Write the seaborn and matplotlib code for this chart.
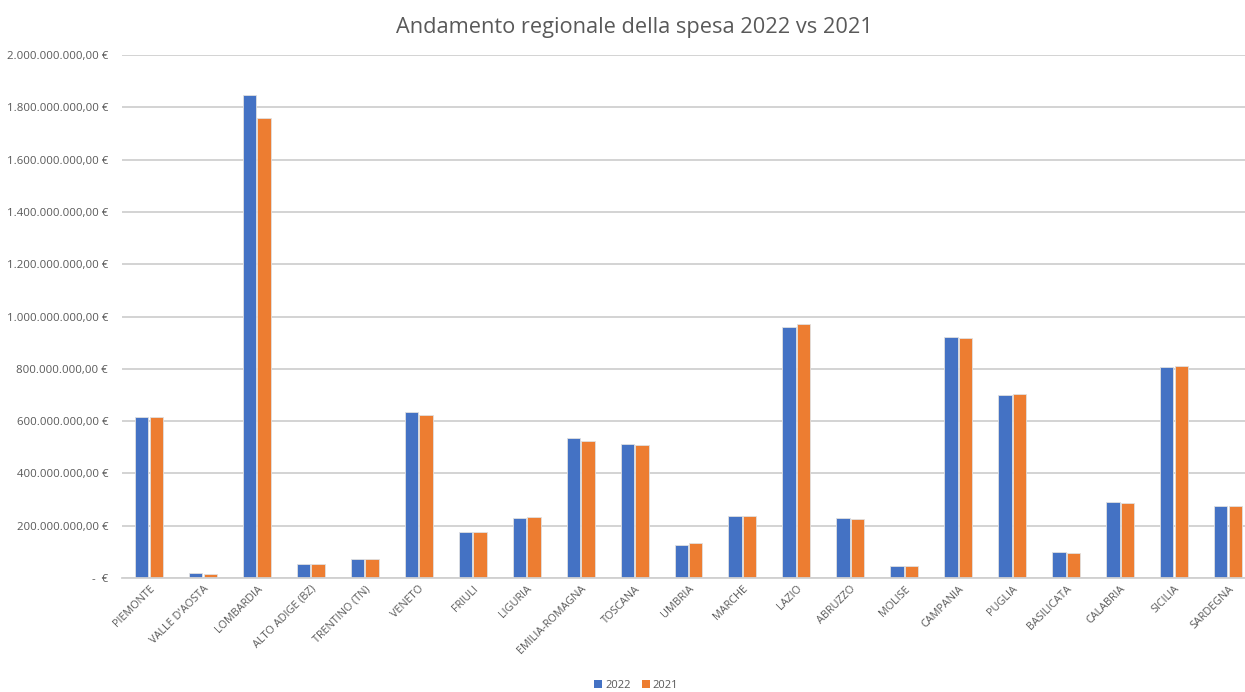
import matplotlib
matplotlib.use("Agg")
import matplotlib.pyplot as plt
import seaborn as sns
import pandas as pd
from matplotlib.ticker import FuncFormatter
from matplotlib.patches import Patch

regioni = ["PIEMONTE", "VALLE D'AOSTA", "LOMBARDIA", "ALTO ADIGE (BZ)", "TRENTINO (TN)",
           "VENETO", "FRIULI", "LIGURIA", "EMILIA-ROMAGNA", "TOSCANA", "UMBRIA",
           "MARCHE", "LAZIO", "ABRUZZO", "MOLISE", "CAMPANIA", "PUGLIA", "BASILICATA",
           "CALABRIA", "SICILIA", "SARDEGNA"]
spesa_2022 = [617e6, 18e6, 1847e6, 55e6, 72e6, 635e6, 175e6, 230e6, 536e6, 513e6, 127e6,
              238e6, 961e6, 231e6, 46e6, 923e6, 701e6, 99e6, 292e6, 807e6, 276e6]
spesa_2021 = [617e6, 14e6, 1760e6, 55e6, 72e6, 624e6, 175e6, 232e6, 522e6, 507e6, 135e6,
              238e6, 972e6, 227e6, 44e6, 919e6, 705e6, 97e6, 286e6, 812e6, 274e6]
anni = ["2022", "2021"]
colori = ["#4472C4", "#ED7D31"]

df = pd.DataFrame({
    "regione": regioni * 2,
    "anno": [anni[0]] * len(regioni) + [anni[1]] * len(regioni),
    "spesa": spesa_2022 + spesa_2021,
})

sns.set_theme(style="white")
plt.rcParams["font.family"] = ["Open Sans", "DejaVu Sans"]

fig = plt.figure(figsize=(12.45, 6.92), dpi=100)
ax = fig.add_axes([122 / 1245, 1 - 578 / 692, 1133 / 1245, (578 - 55) / 692])

sns.barplot(data=df, x="regione", y="spesa", hue="anno", order=regioni, hue_order=anni,
            palette=colori, width=0.54, gap=0.08, edgecolor="#e0e0e0", linewidth=0.6,
            saturation=1, ax=ax, legend=False)

ax.set_ylim(0, 2e9)
ax.set_xlim(-0.5, len(regioni) - 0.5)
ax.set_yticks([i * 2e8 for i in range(11)])

def fmt(v, pos):
    if v == 0:
        return "-  €"
    s = f"{int(round(v)):,}".replace(",", ".")
    return s + ",00 €"

ax.yaxis.set_major_formatter(FuncFormatter(fmt))
ax.grid(axis="y", color="#d0d0d0", linewidth=1.3)
ax.set_axisbelow(True)
for sp in ["top", "right", "left"]:
    ax.spines[sp].set_visible(False)
ax.spines["bottom"].set_color("#d0d0d0")
ax.spines["bottom"].set_linewidth(1.3)
ax.set_xlabel("")
ax.set_ylabel("")
ax.tick_params(axis="y", length=0, pad=10, labelsize=8.2, labelcolor="#595959")
ax.tick_params(axis="x", length=0, pad=4, labelsize=7.8, labelcolor="#595959")
plt.setp(ax.get_xticklabels(), rotation=45, ha="right", rotation_mode="anchor")

fig.suptitle("Andamento regionale della spesa 2022 vs 2021", x=0.5095, y=0.975,
             fontsize=15.7, color="#595959")

handles = [Patch(facecolor=c, edgecolor="none") for c in colori]
fig.legend(handles, anni, loc="center", bbox_to_anchor=(0.511, 0.009), ncol=2,
           frameon=False, fontsize=8, handlelength=0.7, handleheight=0.7,
           handletextpad=0.3, columnspacing=1.0, labelcolor="#595959")

fig.savefig("out.png", dpi=100)
